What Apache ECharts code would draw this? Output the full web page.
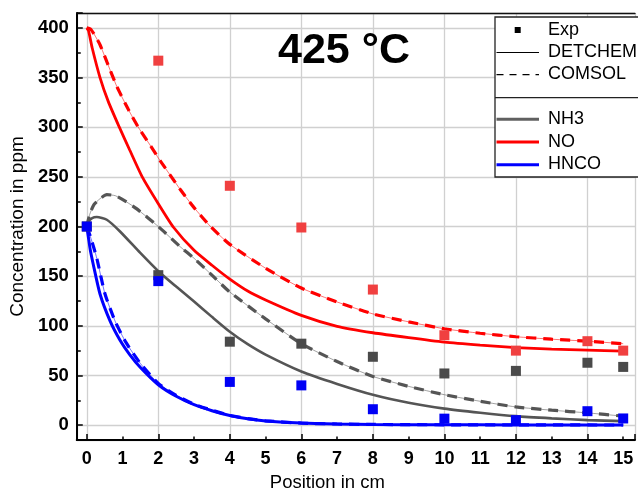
<!DOCTYPE html>
<html><head><meta charset="utf-8">
<script src="https://cdn.jsdelivr.net/npm/echarts@6/dist/echarts.min.js"></script>
<style>html,body{margin:0;padding:0;background:#fff}#c{width:638px;height:497px}</style>
</head><body><div id="c"></div>
<script>
// ---- data ----
const titleText = '425 °C';
const xAxisTitle = 'Position in cm';
const yAxisTitle = 'Concentration in ppm';
const legendNames = ['Exp', 'DETCHEM', 'COMSOL', 'NH3', 'NO', 'HNCO'];

const expX = [0, 2, 4, 6, 8, 10, 12, 14, 15];
const noExpX = [2, 4, 6, 8, 10, 12, 14, 15];
const noExp = [367, 241, 199, 136.5, 90.5, 75, 84.5, 75];
const nh3Exp = [200, 151, 84, 82, 68.8, 52, 54.6, 62.8, 58.6];
const hncoExp = [200, 145, 43.5, 40, 16, 6.5, 5, 14, 6.7];

const noDetchem = [[0,400],[0.05,397],[0.15,380],[0.37,350],[0.6,326],[0.91,300],[1.2,277],[1.55,250],[2,223],[2.43,199],[3,176],[3.5,161],[4,147],[4.5,135],[5,126],[6,110.5],[7,99.5],[8,93],[9,88],[10,83.5],[11,80.5],[12,78],[13,76.5],[14,75.5],[15,74.5]];
const noComsol = [[0,400],[0.1,399],[0.2,394],[0.37,383],[0.56,366],[0.84,341],[1.16,318],[1.44,300],[1.88,276],[2,269],[2.62,237],[3,219],[3.46,200],[4,182],[5,158],[6,138],[7,124],[8,112],[9,104],[10,97],[11,92.5],[12,89],[13,86.5],[14,84.5],[15,82]];
const nh3Detchem = [[0,200],[0.05,205],[0.15,208.5],[0.28,209.5],[0.56,206.8],[0.93,195],[1.49,173.6],[2,155],[2.5,139.5],[3,124.5],[3.5,109],[4,94],[4.5,81.5],[5,71],[6,54],[7,41.5],[8,30.6],[9,22.5],[10,16.6],[11,12.5],[12,9],[13,6.8],[14,5],[15,4]];
const nh3Comsol = [[0,200],[0.08,212],[0.2,222],[0.37,228],[0.56,232],[0.8,231],[1.1,225],[1.39,218],[2,200],[2.6,180],[3,168],[3.5,151],[4,134],[5,107],[6,82],[7,64],[8,49],[9,39],[10,30.6],[11,24],[12,18.3],[13,15],[14,12.3],[15,9]];
const hncoDetchem = [[0,200],[0.05,188],[0.1,176],[0.18,162],[0.37,132],[0.65,105],[0.93,85.5],[1.2,71],[1.5,58],[2,40.6],[2.5,29],[3,20.6],[3.5,14.5],[4,9.6],[4.5,6.3],[5,4.2],[6,2],[7,1.1],[8,0.7],[10,0.3],[12,0.2],[15,0.1]];
const hncoComsol = [[0,200],[0.1,190],[0.28,168],[0.51,132],[0.8,104],[1.1,83],[1.5,62],[2,42],[2.5,30],[3,21],[3.5,15],[4,9.8],[4.5,6.5],[5,4.3],[6,2],[7,1.1],[8,0.7],[10,0.3],[12,0.2],[15,0.1]];

// ---- styling ----
const FONT = "Arial, 'Liberation Sans', sans-serif";
const C_NO = '#ff0000', C_NO_EXP = '#f04040';
const C_NH3 = '#555555', C_NH3_EXP = '#4a4a4a';
const C_HNCO = '#0000ff', C_HNCO_EXP = '#0000f5';
const GRIDC = '#d0d0d0';
const SMOOTH = 0.2;

function zip(xs, ys) { return xs.map((x, i) => [x, ys[i]]); }
function solid(name, data, color, w) {
  return { name, type: 'line', data, showSymbol: false, smooth: SMOOTH,
    lineStyle: { color, width: w, type: 'solid' }, z: 3, silent: true };
}
function dashedPair(name, data, color, w) {
  return [
    { name: name + ' thin', type: 'line', data, showSymbol: false, smooth: SMOOTH,
      lineStyle: { color, width: 1, opacity: 0.55 }, z: 2, silent: true },
    { name, type: 'line', data, showSymbol: false, smooth: SMOOTH,
      lineStyle: { color, width: w, type: [10, 7] }, z: 3, silent: true }
  ];
}
function scatter(name, data, color) {
  return { name, type: 'scatter', data, symbol: 'rect', symbolSize: 10,
    itemStyle: { color, opacity: 1 }, z: 5, silent: true };
}

const chart = echarts.init(document.getElementById('c'), null, { renderer: 'canvas' });
const xMin = -0.28, xMax = 15.33;

const lgX = 495, lgY = 17;
const legendGraphic = [
  { type: 'rect', shape: { x: lgX, y: lgY, width: 160, height: 160 }, style: { fill: '#fff', stroke: '#222', lineWidth: 1.3 }, z: 100 },
  { type: 'line', shape: { x1: lgX, y1: 97.7, x2: 660, y2: 97.7 }, style: { stroke: '#222', lineWidth: 1.3 }, z: 101 },
  { type: 'rect', shape: { x: 514.7, y: 27, width: 6, height: 6 }, style: { fill: '#000' }, z: 101 },
  { type: 'line', shape: { x1: 496.5, y1: 52.5, x2: 539, y2: 52.5 }, style: { stroke: '#000', lineWidth: 1.2 }, z: 101 },
  { type: 'line', shape: { x1: 496.5, y1: 74.7, x2: 539, y2: 74.7 }, style: { stroke: '#000', lineWidth: 1.2, lineDash: [7, 6] }, z: 101 },
  { type: 'line', shape: { x1: 496.5, y1: 119.3, x2: 539, y2: 119.3 }, style: { stroke: '#606060', lineWidth: 3 }, z: 101 },
  { type: 'line', shape: { x1: 496.5, y1: 142, x2: 539, y2: 142 }, style: { stroke: C_NO, lineWidth: 3 }, z: 101 },
  { type: 'line', shape: { x1: 496.5, y1: 164.7, x2: 539, y2: 164.7 }, style: { stroke: C_HNCO, lineWidth: 3 }, z: 101 }
];
const lgTextY = [30, 52.5, 74.5, 119.5, 142, 164.5];
legendNames.forEach((t, i) => legendGraphic.push({
  type: 'text', x: 548, y: lgTextY[i], z: 102,
  style: { text: t, font: '18px ' + FONT, fill: '#000', textVerticalAlign: 'middle', verticalAlign: 'middle', textAlign: 'left' }
}));
legendGraphic.push({
  type: 'text', x: 344, y: 51, z: 102,
  style: { text: titleText, font: 'bold 43px ' + FONT, fill: '#000', textAlign: 'center', textVerticalAlign: 'middle', verticalAlign: 'middle' }
});

const option = {
  backgroundColor: '#fff',
  animation: false,
  grid: { left: 76, top: 13, right: 0, bottom: 53, show: false, containLabel: false },
  xAxis: [
    { type: 'value', min: xMin, max: xMax, minInterval: 2, maxInterval: 2, position: 'bottom',
      axisLine: { show: true, onZero: false, lineStyle: { color: '#000', width: 2 } },
      axisTick: { show: true, inside: true, length: 6, lineStyle: { color: '#000', width: 1.5 } },
      minorTick: { show: true, splitNumber: 2, length: 3.5, lineStyle: { color: '#000', width: 1.5 } },
      splitLine: { show: true, lineStyle: { color: GRIDC, width: 1.3 } },
      axisLabel: { show: false } },
    { type: 'value', min: xMin, max: xMax, minInterval: 1, maxInterval: 1, position: 'bottom',
      axisLine: { show: false, onZero: false }, axisTick: { show: false }, splitLine: { show: false },
      axisLabel: { show: true, margin: 10, color: '#000', fontFamily: FONT, fontWeight: 'bold', fontSize: 18,
        formatter: v => (Math.abs(v - Math.round(v)) < 1e-6 && v >= 0 && v <= 15) ? String(Math.round(v)) : '' },
      name: xAxisTitle, nameLocation: 'middle', nameGap: 33,
      nameTextStyle: { color: '#000', fontFamily: FONT, fontSize: 18.5, padding: [0, 57, 0, 0] } },
    { type: 'value', min: xMin, max: xMax, position: 'top',
      axisLine: { show: true, onZero: false, lineStyle: { color: '#111', width: 1.3 } },
      axisTick: { show: false }, axisLabel: { show: false }, splitLine: { show: false } }
  ],
  yAxis: [
    { type: 'value', min: -15, max: 415, minInterval: 50, maxInterval: 50,
      axisLine: { show: true, onZero: false, lineStyle: { color: '#000', width: 2 } },
      axisTick: { show: true, inside: true, length: 6, lineStyle: { color: '#000', width: 1.5 } },
      minorTick: { show: true, splitNumber: 2, length: 4, lineStyle: { color: '#000', width: 1.5 } },
      splitLine: { show: true, lineStyle: { color: GRIDC, width: 1.3 } },
      axisLabel: { show: true, margin: 8, color: '#000', fontFamily: FONT, fontWeight: 'bold', fontSize: 18.5,
        formatter: v => (Math.abs(v % 50) < 1e-6) ? String(v) : '' },
      name: yAxisTitle, nameLocation: 'middle', nameGap: 44, nameRotate: 90,
      nameTextStyle: { color: '#000', fontFamily: FONT, fontSize: 19 } }
  ],
  graphic: legendGraphic,
  series: [
    solid('NO DETCHEM', noDetchem, C_NO, 2.8),
    ...dashedPair('NO COMSOL', noComsol, C_NO, 3.2),
    solid('NH3 DETCHEM', nh3Detchem, C_NH3, 2.6),
    ...dashedPair('NH3 COMSOL', nh3Comsol, C_NH3, 3.2),
    solid('HNCO DETCHEM', hncoDetchem, C_HNCO, 3),
    ...dashedPair('HNCO COMSOL', hncoComsol, C_HNCO, 3.2),
    scatter('NO Exp', zip(noExpX, noExp), C_NO_EXP),
    scatter('NH3 Exp', zip(expX, nh3Exp), C_NH3_EXP),
    scatter('HNCO Exp', zip(expX, hncoExp), C_HNCO_EXP)
  ]
};
chart.setOption(option);
</script>
</body></html>
